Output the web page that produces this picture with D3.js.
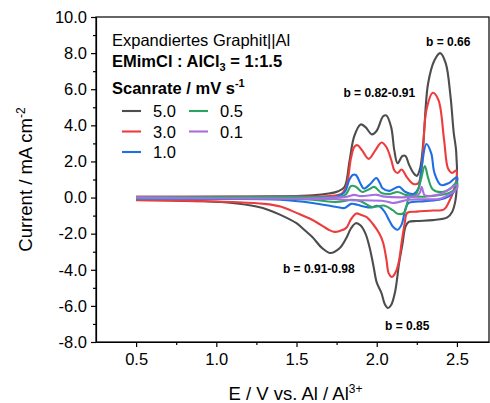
<!DOCTYPE html>
<html>
<head>
<meta charset="utf-8">
<script src="https://cdn.jsdelivr.net/npm/d3@7"></script>
<style>
  body { margin: 0; background: #fff; }
  svg { display: block; font-family: Arial, "Liberation Sans", sans-serif; }
</style>
</head>
<body>
<div id="chart"></div>
<script>
// scan rates and line colours
var scanRates = ["5.0", "3.0", "1.0", "0.5", "0.1"];
var colors = ["#4d4d4d", "#ee3b3b", "#1d6fe3", "#2ea35f", "#a76fe0"];

// cyclic voltammograms [E (V), j (mA cm-2)], anodic sweep then cathodic sweep
var cv50 = [[0.5,0.04],[0.8,0.04],[1.1,0.05],[1.4,0.07],[1.6,0.12],[1.7,0.22],[1.76,0.35],[1.8,0.6],[1.83,2.0],[1.86,3.4],[1.9,4.05],[1.93,3.9],[1.97,3.5],[2.0,3.7],[2.04,4.5],[2.06,4.55],[2.09,3.9],[2.11,2.6],[2.13,1.9],[2.16,2.3],[2.18,2.3],[2.2,1.85],[2.23,1.35],[2.25,1.2],[2.27,1.6],[2.29,3.0],[2.32,6.3],[2.36,7.6],[2.395,8.0],[2.43,7.45],[2.46,5.6],[2.48,3.6],[2.495,2.6],
  [2.5,0.8],[2.49,-0.2],[2.47,-0.8],[2.44,-1.1],[2.35,-1.25],[2.25,-1.3],[2.2,-1.35],[2.18,-1.6],[2.16,-2.6],[2.14,-3.6],[2.115,-5.2],[2.09,-5.95],[2.07,-6.12],[2.05,-5.9],[2.03,-5.3],[2.0,-4.7],[1.98,-3.8],[1.955,-2.74],[1.93,-2.0],[1.9,-1.55],[1.87,-1.42],[1.84,-1.7],[1.81,-2.25],[1.77,-2.79],[1.71,-3.07],[1.66,-2.8],[1.6,-2.2],[1.55,-1.8],[1.5,-1.42],[1.4,-0.96],[1.33,-0.7],[1.25,-0.5],[1.1,-0.3],[0.9,-0.2],[0.7,-0.16],[0.5,-0.13]];
var cv30 = [[0.5,0.04],[1.0,0.04],[1.5,0.05],[1.7,0.08],[1.78,0.2],[1.81,0.6],[1.84,2.2],[1.86,2.8],[1.88,2.9],[1.91,2.6],[1.95,2.14],[1.99,2.6],[2.03,3.05],[2.06,2.8],[2.09,2.1],[2.11,1.5],[2.13,1.36],[2.155,1.55],[2.19,1.1],[2.23,0.75],[2.26,0.8],[2.28,1.6],[2.31,4.85],[2.35,5.8],[2.385,5.4],[2.42,3.2],[2.445,1.6],[2.47,1.36],[2.495,1.5],
  [2.5,1.2],[2.48,0.4],[2.45,-0.25],[2.42,-0.65],[2.35,-0.72],[2.25,-0.78],[2.19,-0.85],[2.175,-1.4],[2.155,-2.5],[2.14,-3.45],[2.12,-4.1],[2.095,-4.4],[2.075,-4.2],[2.06,-3.4],[2.04,-2.5],[2.017,-2.0],[1.975,-1.45],[1.935,-1.07],[1.9,-0.95],[1.873,-0.88],[1.84,-1.2],[1.81,-1.68],[1.77,-1.85],[1.736,-1.9],[1.7,-1.78],[1.6,-1.24],[1.5,-0.85],[1.4,-0.5],[1.3,-0.35],[1.1,-0.25],[0.8,-0.18],[0.5,-0.15]];
var cv10 = [[0.5,0.03],[1.0,0.03],[1.5,0.04],[1.75,0.06],[1.8,0.3],[1.83,1.0],[1.85,1.25],[1.87,1.25],[1.9,0.75],[1.92,0.5],[1.96,0.75],[1.997,1.08],[2.02,0.8],[2.035,0.53],[2.08,0.37],[2.12,0.55],[2.14,0.6],[2.18,0.31],[2.23,0.2],[2.26,0.5],[2.28,1.7],[2.31,2.97],[2.34,2.45],[2.36,1.36],[2.4,0.7],[2.45,0.8],[2.5,1.14],
  [2.5,0.8],[2.47,0.2],[2.4,-0.1],[2.3,-0.2],[2.2,-0.3],[2.18,-0.6],[2.155,-1.5],[2.13,-1.78],[2.1,-1.6],[2.08,-1.3],[2.05,-0.8],[2.02,-0.5],[2.0,-0.45],[1.97,-0.55],[1.92,-0.5],[1.88,-0.4],[1.84,-0.35],[1.8,-0.58],[1.75,-0.52],[1.6,-0.3],[1.4,-0.12],[1.0,-0.08],[0.5,-0.08]];
var cv05 = [[0.5,0.03],[1.5,0.04],[1.78,0.06],[1.81,0.2],[1.84,0.64],[1.87,0.6],[1.91,0.31],[1.95,0.45],[1.985,0.59],[2.03,0.25],[2.08,0.2],[2.13,0.31],[2.18,0.15],[2.24,0.14],[2.27,0.8],[2.3,1.75],[2.32,1.1],[2.35,0.45],[2.41,0.31],[2.46,0.5],[2.5,0.86],
  [2.5,0.6],[2.45,0.25],[2.3,0.05],[2.2,0.0],[2.19,-0.3],[2.17,-0.85],[2.13,-0.9],[2.1,-0.7],[2.05,-0.45],[1.97,-0.52],[1.9,-0.2],[1.84,-0.13],[1.75,-0.25],[1.6,-0.12],[1.3,-0.05],[0.5,-0.05]];
var cv01 = [[0.5,0.02],[1.8,0.03],[1.86,0.15],[1.9,0.08],[2.0,0.15],[2.05,0.05],[2.25,0.1],[2.27,0.3],[2.28,0.6],[2.29,0.3],[2.3,0.12],[2.4,0.2],[2.5,0.7],
  [2.5,0.5],[2.4,-0.05],[2.3,-0.1],[2.2,-0.12],[2.1,-0.3],[2.05,-0.2],[1.9,-0.15],[1.85,-0.15],[1.7,-0.08],[0.5,-0.03]];
var curves = [cv50, cv30, cv10, cv05, cv01];

var xTicks = [0.5, 1.0, 1.5, 2.0, 2.5];
var yTicks = [-8, -6, -4, -2, 0, 2, 4, 6, 8, 10];
var bLabels = ["b = 0.66", "b = 0.82-0.91", "b = 0.91-0.98", "b = 0.85"];

var width = 490, height = 403;
var margin = {top: 17, right: 1, bottom: 61, left: 96};

var svg = d3.select("#chart").append("svg")
    .attr("width", width)
    .attr("height", height);

var x = d3.scaleLinear().domain([0.25, 2.7]).range([margin.left, width - margin.right]);
var y = d3.scaleLinear().domain([-8, 10]).range([height - margin.bottom, margin.top]);

// frame
svg.append("rect")
    .attr("x", x(0.25)).attr("y", y(10))
    .attr("width", x(2.7) - x(0.25)).attr("height", y(-8) - y(10))
    .attr("fill", "none").attr("stroke", "#000").attr("stroke-width", 1.2);

// minor ticks
svg.append("g")
    .attr("transform", "translate(0," + y(-8) + ")")
    .call(d3.axisBottom(x).tickValues([0.75, 1.25, 1.75, 2.25]).tickSize(3).tickFormat(""))
    .call(function(g){ g.select(".domain").remove(); });
svg.append("g")
    .attr("transform", "translate(" + x(0.25) + ",0)")
    .call(d3.axisLeft(y).tickValues([-7, -5, -3, -1, 1, 3, 5, 7, 9]).tickSize(3).tickFormat(""))
    .call(function(g){ g.select(".domain").remove(); });

// major axes
var xAxis = svg.append("g")
    .attr("transform", "translate(0," + y(-8) + ")")
    .call(d3.axisBottom(x).tickValues(xTicks).tickSize(5).tickSizeOuter(0).tickPadding(6)
        .tickFormat(function(d){ return d.toFixed(1); }));
var yAxis = svg.append("g")
    .attr("transform", "translate(" + x(0.25) + ",0)")
    .call(d3.axisLeft(y).tickValues(yTicks).tickSize(5).tickSizeOuter(0).tickPadding(4)
        .tickFormat(function(d){ return d.toFixed(1).replace("\u2212", "-"); }));
svg.selectAll(".tick text").attr("font-size", "16.5px").attr("fill", "#000")
    .attr("font-family", "Arial, 'Liberation Sans', sans-serif");
svg.selectAll(".tick line").attr("stroke-width", 1.2);
svg.selectAll(".domain").attr("stroke-width", 1.2);

// curves
var line = d3.line()
    .x(function(d){ return x(d[0]); })
    .y(function(d){ return y(d[1]); })
    .curve(d3.curveCatmullRom.alpha(0.5));

svg.append("g").selectAll("path").data(curves)
    .enter()
    .append("path")
    .attr("d", line)
    .attr("fill", "none")
    .attr("stroke", function(d, i){ return colors[i]; })
    .attr("stroke-width", 2.1)
    .attr("stroke-linejoin", "round");

// header text
svg.append("text")
    .attr("x", 112).attr("y", 46)
    .attr("font-size", "16.5px")
    .text("Expandiertes Graphit||Al");

var t2 = svg.append("text")
    .attr("x", 112).attr("y", 67)
    .attr("font-size", "16.5px").attr("font-weight", "bold");
t2.append("tspan").text("EMimCl : AlCl");
t2.append("tspan").attr("dy", 4).attr("font-size", "11px").text("3");
t2.append("tspan").attr("dy", -4).text(" = 1:1.5");

var t3 = svg.append("text")
    .attr("x", 112).attr("y", 94)
    .attr("font-size", "16.5px").attr("font-weight", "bold");
t3.append("tspan").text("Scanrate / mV s");
t3.append("tspan").attr("dy", -7).attr("font-size", "11px").text("-1");

// legend, column-wise: 5.0 3.0 1.0 | 0.5 0.1
var legend = svg.append("g");
scanRates.forEach(function(r, i){
    var col = i < 3 ? 0 : 1;
    var row = i < 3 ? i : i - 3;
    var lx = 122 + col * 67;
    var ly = 111 + row * 20.5;
    legend.append("line")
        .attr("x1", lx).attr("x2", lx + 19)
        .attr("y1", ly).attr("y2", ly)
        .attr("stroke", colors[i]).attr("stroke-width", 2.1);
    legend.append("text")
        .attr("x", lx + 31).attr("y", ly + 6)
        .attr("font-size", "16.5px")
        .text(r);
});

// b-value annotations
var bPos = [[2.446, 8.39], [2.016, 5.57], [1.639, -4.17], [2.19, -7.33]];
svg.append("g").selectAll("text").data(bLabels)
    .enter()
    .append("text")
    .attr("x", function(d, i){ return x(bPos[i][0]); })
    .attr("y", function(d, i){ return y(bPos[i][1]); })
    .attr("text-anchor", "middle")
    .attr("font-size", "12px")
    .attr("font-weight", "bold")
    .text(function(d){ return d; });

// axis titles
var xt = svg.append("text")
    .attr("x", (x(0.25) + x(2.7)) / 2 + 3).attr("y", 400)
    .attr("text-anchor", "middle")
    .attr("font-size", "18.5px");
xt.append("tspan").text("E / V vs. Al / Al");
xt.append("tspan").attr("dy", -7).attr("font-size", "12px").text("3+");

var yt = svg.append("text")
    .attr("transform", "translate(32," + ((y(10) + y(-8)) / 2) + ") rotate(-90)")
    .attr("text-anchor", "middle")
    .attr("font-size", "18.5px");
yt.append("tspan").text("Current / mA cm");
yt.append("tspan").attr("dy", -7).attr("font-size", "12px").text("-2");
</script>
</body>
</html>
